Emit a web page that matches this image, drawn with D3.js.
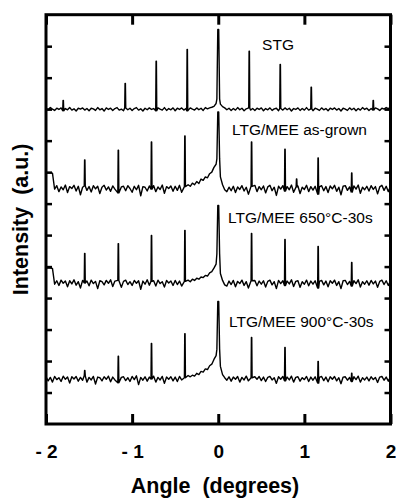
<!DOCTYPE html>
<html>
<head>
<meta charset="utf-8">
<script src="https://cdn.jsdelivr.net/npm/d3@7"></script>
<style>
  body { margin: 0; background: #fff; }
  svg { display: block; }
  .trace { fill: none; stroke: #000; stroke-width: 1.4; stroke-linejoin: round; }
  .axis line { stroke: #000; }
  .axis path { display: none; }
</style>
</head>
<body>
<div id="chart"></div>
<script>
// sampled background of each scan, relative to its own baseline (a.u.), every 0.025 deg from -2 to 2
const stgBackground = [
  0.03,-0.02,0.05,0.0,-0.04,0.03,-0.01,0.04,-0.05,0.02,
  -0.02,0.05,-0.03,0.01,-0.06,0.03,0.0,0.04,-0.03,0.02,
  -0.05,0.03,0.01,-0.04,0.05,-0.02,0.02,-0.06,0.04,-0.01,
  0.03,-0.04,0.02,0.05,-0.03,0.0,-0.05,0.04,-0.02,0.03,
  -0.04,0.02,0.05,-0.03,0.01,-0.06,0.03,-0.02,0.04,-0.01,
  0.02,-0.05,0.04,0.0,-0.03,0.05,-0.04,0.02,-0.02,0.04,
  -0.05,0.03,-0.01,0.04,-0.03,0.02,-0.05,0.04,0.0,-0.03,
  0.04,-0.02,0.03,-0.04,0.05,0.01,0.04,0.06,0.09,0.18,
  0.32,
  0.16,0.08,0.04,-0.02,0.03,-0.04,0.02,-0.03,0.05,-0.02,
  0.03,-0.05,0.01,0.04,-0.03,0.02,-0.04,0.03,-0.01,0.04,
  -0.05,0.02,-0.02,0.04,-0.04,0.01,0.03,-0.05,0.02,-0.03,
  0.04,-0.02,0.03,-0.06,0.02,-0.01,0.04,-0.04,0.02,-0.03,
  0.05,-0.03,0.01,-0.05,0.03,0.0,-0.04,0.04,-0.02,0.02,
  -0.05,0.03,-0.01,0.04,-0.03,0.02,-0.06,0.03,0.0,-0.04,
  0.04,-0.02,0.03,-0.05,0.02,-0.03,0.05,-0.01,0.03,-0.04,
  0.02,-0.03,0.04,0.01,-0.04,0.03,0.0,0.05,0.02,0.06
];
const asGrownBackground = [
  0.48,0.48,0.48,0.47,-0.04,0.07,-0.12,0.03,-0.06,0.09,
  -0.15,0.04,-0.02,0.08,-0.1,0.05,-0.22,0.02,0.06,-0.08,
  0.04,-0.13,0.07,-0.03,0.05,-0.18,0.02,0.08,-0.07,0.03,
  -0.11,0.06,-0.04,0.09,-0.16,0.03,0.05,-0.09,0.07,-0.02,
  -0.14,0.05,-0.06,0.08,-0.25,0.04,0.02,-0.1,0.06,-0.04,
  0.07,-0.12,0.03,-0.05,0.09,-0.17,0.04,-0.02,0.06,-0.11,
  0.05,-0.08,0.08,-0.14,0.06,0.04,0.1,0.05,0.15,0.1,
  0.2,0.14,0.28,0.24,0.35,0.32,0.45,0.5,0.65,0.75,
  0.92,
  0.35,0.1,-0.06,-0.12,0.02,-0.09,0.05,-0.15,0.03,-0.05,
  0.07,-0.1,0.02,-0.2,0.05,-0.03,0.08,-0.12,0.04,-0.06,
  0.06,-0.16,0.03,0.08,-0.09,0.02,-0.24,0.05,-0.04,0.07,
  -0.1,0.04,-0.06,0.09,-0.14,0.03,0.06,-0.18,0.02,-0.05,
  0.08,-0.12,0.04,-0.07,0.05,-0.2,0.03,0.07,-0.09,0.04,
  -0.15,0.06,-0.03,0.08,-0.11,0.02,-0.22,0.05,0.07,-0.08,
  0.03,-0.13,0.06,-0.04,0.09,-0.17,0.02,-0.06,0.05,-0.1,
  0.07,-0.05,0.04,-0.19,0.03,0.08,-0.08,0.05,-0.12,0.06
];
const anneal650Background = [
  0.45,0.45,0.45,0.44,-0.06,0.05,-0.1,0.07,-0.03,0.04,
  -0.14,0.05,-0.05,0.08,-0.09,0.02,-0.18,0.06,-0.02,0.04,
  -0.11,0.07,-0.04,0.03,-0.2,0.05,0.02,-0.08,0.06,-0.03,
  0.08,-0.13,0.04,-0.05,0.06,-0.16,0.03,0.07,-0.07,0.02,
  -0.1,0.06,-0.03,0.05,-0.22,0.04,-0.06,0.08,-0.09,0.03,
  0.05,-0.12,0.07,-0.04,0.02,-0.15,0.06,-0.02,0.04,-0.1,
  0.06,-0.07,0.04,-0.12,0.05,0.03,0.07,0.02,0.1,0.06,
  0.13,0.1,0.17,0.15,0.22,0.2,0.3,0.34,0.45,0.58,
  0.9,
  0.28,0.06,-0.08,-0.12,0.04,-0.07,0.06,-0.14,0.03,-0.04,
  0.07,-0.1,0.02,-0.18,0.05,-0.03,0.06,-0.11,0.04,-0.06,
  0.05,-0.15,0.03,0.07,-0.08,0.02,-0.2,0.06,-0.04,0.05,
  -0.1,0.04,-0.05,0.08,-0.13,0.03,0.05,-0.16,0.02,-0.06,
  0.07,-0.11,0.04,-0.06,0.05,-0.18,0.03,0.06,-0.08,0.04,
  -0.14,0.05,-0.03,0.07,-0.1,0.02,-0.2,0.05,0.06,-0.07,
  0.03,-0.12,0.05,-0.04,0.08,-0.15,0.02,-0.06,0.05,-0.09,
  0.06,-0.05,0.04,-0.16,0.03,0.07,-0.07,0.05,-0.1,0.05
];
const anneal900Background = [
  0.05,-0.08,0.03,-0.12,0.06,-0.04,0.02,-0.1,0.07,-0.03,
  0.04,-0.15,0.05,-0.02,0.06,-0.09,0.03,-0.06,0.08,-0.12,
  0.03,-0.05,0.06,-0.18,0.04,0.02,-0.08,0.05,-0.03,0.07,
  -0.11,0.04,-0.05,0.06,-0.14,0.03,0.05,-0.07,0.02,-0.1,
  0.06,-0.04,0.08,-0.2,0.03,-0.06,0.05,-0.09,0.04,-0.02,
  0.07,-0.12,0.03,-0.05,0.06,-0.16,0.04,-0.03,0.05,-0.08,
  0.04,-0.1,0.06,-0.05,0.04,0.02,0.09,0.05,0.1,0.07,
  0.16,0.12,0.22,0.2,0.3,0.28,0.4,0.45,0.6,0.72,
  0.92,
  0.38,0.12,0.02,-0.06,0.05,-0.09,0.04,-0.03,0.06,-0.12,
  0.03,-0.05,0.07,-0.08,0.02,-0.14,0.05,-0.03,0.06,-0.07,
  0.04,-0.1,0.03,0.06,-0.05,0.02,-0.16,0.05,-0.03,0.06,
  -0.08,0.04,-0.05,0.07,-0.12,0.03,0.05,-0.09,0.02,-0.04,
  0.06,-0.1,0.04,-0.06,0.05,-0.15,0.03,0.06,-0.07,0.04,
  -0.11,0.05,-0.03,0.06,-0.08,0.02,-0.17,0.04,0.05,-0.06,
  0.03,-0.1,0.05,-0.04,0.07,-0.12,0.02,-0.05,0.04,-0.08,
  0.05,-0.04,0.03,-0.13,0.04,0.06,-0.06,0.04,-0.09,0.05
];

// satellite peaks: angle (deg) and height above baseline (a.u.)
const stgPeakAngles = [-1.8, -1.08, -0.72, -0.36, 0, 0.36, 0.72, 1.08, 1.8];
const stgPeakHeights = [0.28, 0.82, 1.52, 1.9, 2.53, 1.84, 1.42, 0.7, 0.28];
const asGrownPeakAngles = [-1.55, -1.16, -0.775, -0.387, 0, 0.387, 0.775, 0.91, 1.16, 1.55];
const asGrownPeakHeights = [0.89, 1.2, 1.46, 1.65, 2.41, 1.46, 1.23, 0.28, 0.95, 0.47];
const ltgPeakAngles = [-1.55, -1.16, -0.775, -0.387, 0, 0.387, 0.775, 1.16, 1.55];
const anneal650PeakHeights = [0.92, 1.23, 1.49, 1.65, 2.44, 1.55, 1.36, 1.14, 0.63];
const anneal900PeakHeights = [0.25, 0.7, 1.11, 1.42, 2.44, 1.3, 0.98, 0.54, 0.16];

const traceNames = ['STG', 'LTG/MEE as-grown', 'LTG/MEE 650°C-30s', 'LTG/MEE 900°C-30s'];
const traceOffsets = [10.0, 7.5, 4.5, 1.45];

const xTicks = [-2, -1, 0, 1, 2];
const yTicks = [1, 2, 3, 4, 5, 6, 7, 8, 9, 10, 11, 12];

const width = 396, height = 498;
const step = 0.025;
const gridAngles = d3.range(161).map(i => -2 + i * step);

const svg = d3.select('#chart')
  .append('svg')
    .attr('width', width)
    .attr('height', height);

const x = d3.scaleLinear().domain([-2, 2]).range([46, 390.5]);
const y = d3.scaleLinear().domain([0, 13]).range([424, 14.7]);

function tracePoints(background, angles, heights, offset) {
  const pts = [];
  gridAngles.forEach((a, i) => {
    if (!angles.some(p => Math.abs(p - a) < 0.015)) pts.push([a, background[i]]);
  });
  angles.forEach((p, k) => {
    const foot = background[Math.round((p + 2) / step)];
    const w = p === 0 ? 0.016 : 0.006;
    pts.push([p - w, foot], [p - w / 3, heights[k]], [p + w / 3, heights[k]], [p + w, foot]);
  });
  pts.sort((a, b) => a[0] - b[0]);
  return pts.map(d => [d[0], d[1] + offset]);
}

const traces = [
  tracePoints(stgBackground, stgPeakAngles, stgPeakHeights, traceOffsets[0]),
  tracePoints(asGrownBackground, asGrownPeakAngles, asGrownPeakHeights, traceOffsets[1]),
  tracePoints(anneal650Background, ltgPeakAngles, anneal650PeakHeights, traceOffsets[2]),
  tracePoints(anneal900Background, ltgPeakAngles, anneal900PeakHeights, traceOffsets[3])
];

const line = d3.line().x(d => x(d[0])).y(d => y(d[1]));

svg.append('g')
  .selectAll('path')
  .data(traces)
  .enter()
  .append('path')
    .attr('class', 'trace')
    .attr('d', line);

// axes, ticks pointing inward
svg.append('g')
  .attr('class', 'axis')
  .attr('transform', 'translate(0,424)')
  .call(d3.axisBottom(x).tickValues(xTicks).tickSize(-10).tickPadding(21)
    .tickFormat(d => d < 0 ? '- ' + Math.abs(d) : d))
  .call(g => g.selectAll('line').attr('stroke-width', 3))
  .call(g => g.selectAll('text')
    .attr('fill', '#000')
    .style('font-family', '"Liberation Sans", Arial, sans-serif')
    .style('font-weight', 'bold')
    .style('font-size', '19px'));

svg.append('g')
  .attr('class', 'axis')
  .attr('transform', 'translate(0,14.7)')
  .call(d3.axisTop(x).tickValues(xTicks).tickSize(-10).tickFormat(''))
  .call(g => g.selectAll('line').attr('stroke-width', 3));

svg.append('g')
  .attr('class', 'axis')
  .attr('transform', 'translate(46,0)')
  .call(d3.axisLeft(y).tickValues(yTicks).tickSize(-6).tickFormat(''))
  .call(g => g.selectAll('line').attr('stroke-width', 2.5));

svg.append('g')
  .attr('class', 'axis')
  .attr('transform', 'translate(390.5,0)')
  .call(d3.axisRight(y).tickValues(yTicks).tickSize(-6).tickFormat(''))
  .call(g => g.selectAll('line').attr('stroke-width', 2.5));

svg.append('rect')
  .attr('x', x(-2))
  .attr('y', y(13))
  .attr('width', x(2) - x(-2))
  .attr('height', y(0) - y(13))
  .attr('fill', 'none')
  .attr('stroke', '#000')
  .attr('stroke-width', 3);

// trace labels (placed in data coordinates)
const labelAt = [[0.509, 11.88], [0.16, 9.18], [0.114, 6.37], [0.125, 3.08]];
svg.append('g')
  .selectAll('text')
  .data(traceNames)
  .enter()
  .append('text')
    .attr('x', (d, i) => x(labelAt[i][0]))
    .attr('y', (d, i) => y(labelAt[i][1]))
    .style('font-family', '"Liberation Sans", Arial, sans-serif')
    .style('font-size', '15.5px')
    .text(d => d);

svg.append('text')
  .attr('x', 215)
  .attr('y', 493)
  .attr('text-anchor', 'middle')
  .style('font-family', '"Liberation Sans", Arial, sans-serif')
  .style('font-weight', 'bold')
  .style('font-size', '21.5px')
  .style('white-space', 'pre')
  .text('Angle  (degrees)');

svg.append('text')
  .attr('transform', 'translate(28,' + (y(6.5)) + ') rotate(-90)')
  .attr('text-anchor', 'middle')
  .style('font-family', '"Liberation Sans", Arial, sans-serif')
  .style('font-weight', 'bold')
  .style('font-size', '21.5px')
  .style('white-space', 'pre')
  .text('Intensity  (a.u.)');
</script>
</body>
</html>
